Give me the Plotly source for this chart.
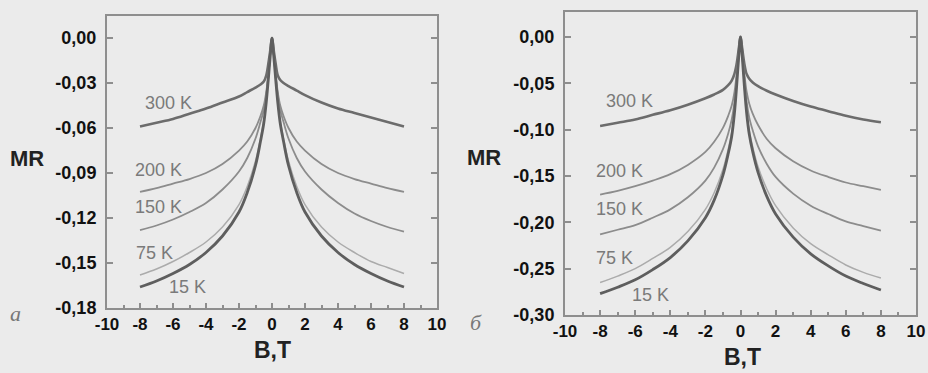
import plotly.graph_objects as go

# ---------------- data ----------------
B = [-8, -7, -6, -5, -4, -3, -2, -1.5, -1, -0.7, -0.5, -0.35, -0.22, -0.1, 0,
     0.1, 0.22, 0.35, 0.5, 0.7, 1, 1.5, 2, 3, 4, 5, 6, 7, 8]

temps = ["300 K", "200 K", "150 K", "75 K", "15 K"]

# panel a
mr_a_300 = [-0.059, -0.0565, -0.054, -0.0505, -0.047, -0.043, -0.039, -0.036, -0.033, -0.031, -0.029, -0.025, -0.017, -0.008, 0.0,
            -0.008, -0.017, -0.025, -0.028, -0.030, -0.032, -0.035, -0.038, -0.043, -0.047, -0.050, -0.053, -0.056, -0.059]
mr_a_200 = [-0.1025, -0.100, -0.097, -0.094, -0.090, -0.084, -0.075, -0.069, -0.060, -0.052, -0.045, -0.036, -0.024, -0.010, 0.0,
            -0.010, -0.024, -0.036, -0.045, -0.052, -0.060, -0.069, -0.075, -0.084, -0.090, -0.094, -0.097, -0.100, -0.1025]
mr_a_150 = [-0.128, -0.125, -0.121, -0.116, -0.110, -0.101, -0.089, -0.080, -0.067, -0.056, -0.048, -0.038, -0.025, -0.010, 0.0,
            -0.010, -0.025, -0.038, -0.048, -0.056, -0.067, -0.080, -0.089, -0.101, -0.110, -0.117, -0.122, -0.126, -0.129]
mr_a_75 = [-0.158, -0.154, -0.149, -0.143, -0.136, -0.126, -0.111, -0.099, -0.082, -0.067, -0.055, -0.042, -0.027, -0.011, 0.0,
           -0.011, -0.027, -0.042, -0.055, -0.067, -0.082, -0.099, -0.111, -0.126, -0.136, -0.143, -0.149, -0.153, -0.157]
mr_a_15 = [-0.166, -0.162, -0.157, -0.151, -0.143, -0.132, -0.116, -0.103, -0.085, -0.069, -0.057, -0.043, -0.027, -0.011, 0.0,
           -0.011, -0.027, -0.043, -0.057, -0.069, -0.085, -0.103, -0.116, -0.132, -0.143, -0.151, -0.157, -0.162, -0.166]

# panel b
mr_b_300 = [-0.096, -0.0925, -0.089, -0.084, -0.079, -0.073, -0.066, -0.062, -0.057, -0.052, -0.047, -0.040, -0.029, -0.013, 0.0,
            -0.013, -0.029, -0.040, -0.045, -0.049, -0.053, -0.058, -0.062, -0.069, -0.075, -0.080, -0.085, -0.089, -0.092]
mr_b_200 = [-0.170, -0.166, -0.161, -0.155, -0.148, -0.138, -0.124, -0.113, -0.098, -0.085, -0.074, -0.060, -0.040, -0.017, 0.0,
            -0.017, -0.040, -0.059, -0.072, -0.083, -0.095, -0.110, -0.120, -0.134, -0.144, -0.151, -0.157, -0.161, -0.165]
mr_b_150 = [-0.213, -0.208, -0.203, -0.195, -0.186, -0.173, -0.155, -0.141, -0.121, -0.104, -0.089, -0.071, -0.046, -0.019, 0.0,
            -0.019, -0.046, -0.070, -0.087, -0.101, -0.118, -0.137, -0.151, -0.169, -0.182, -0.191, -0.199, -0.204, -0.209]
mr_b_75 = [-0.265, -0.258, -0.250, -0.239, -0.227, -0.210, -0.186, -0.168, -0.143, -0.121, -0.103, -0.081, -0.052, -0.021, 0.0,
           -0.021, -0.052, -0.080, -0.101, -0.119, -0.140, -0.164, -0.182, -0.206, -0.223, -0.235, -0.246, -0.254, -0.260]
mr_b_15 = [-0.277, -0.270, -0.262, -0.251, -0.238, -0.220, -0.195, -0.176, -0.149, -0.126, -0.107, -0.083, -0.053, -0.021, 0.0,
           -0.021, -0.053, -0.082, -0.105, -0.124, -0.146, -0.172, -0.191, -0.216, -0.234, -0.247, -0.258, -0.266, -0.273]

x_ticks = [-10, -8, -6, -4, -2, 0, 2, 4, 6, 8, 10]
x_ticktext = ["-10", "-8", "-6", "-4", "-2", "0", "2", "4", "6", "8", "10"]
y_ticks_a = [0.0, -0.03, -0.06, -0.09, -0.12, -0.15, -0.18]
y_ticktext_a = ["0,00", "-0,03", "-0,06", "-0,09", "-0,12", "-0,15", "-0,18"]
y_ticks_b = [0.0, -0.05, -0.10, -0.15, -0.20, -0.25, -0.30]
y_ticktext_b = ["0,00", "-0,05", "-0,10", "-0,15", "-0,20", "-0,25", "-0,30"]

# temperature label anchors (data coords)
lab_a_x = [-6.25, -6.85, -6.85, -7.15, -5.15]
lab_a_y = [-0.0433, -0.088, -0.1127, -0.143, -0.166]
lab_b_x = [-6.3, -6.87, -6.87, -7.2, -5.15]
lab_b_y = [-0.069, -0.1447, -0.186, -0.238, -0.278]

# ---------------- styles ----------------
colors = ["#6c6c6c", "#8c8c8c", "#8c8c8c", "#ababab", "#5e5e5e"]
widths = [2.6, 1.8, 1.8, 1.5, 2.8]
bg = "#ebebeb"
frame = "#8e8e8e"

fig = go.Figure()
series_a = [mr_a_300, mr_a_200, mr_a_150, mr_a_75, mr_a_15]
series_b = [mr_b_300, mr_b_200, mr_b_150, mr_b_75, mr_b_15]
for i, t in enumerate(temps):
    fig.add_trace(go.Scatter(x=B, y=series_a[i], mode="lines", name=t,
                             line=dict(color=colors[i], width=widths[i], shape="spline", smoothing=1.0),
                             xaxis="x", yaxis="y", showlegend=False))
    fig.add_trace(go.Scatter(x=B, y=series_b[i], mode="lines", name=t,
                             line=dict(color=colors[i], width=widths[i], shape="spline", smoothing=1.0),
                             xaxis="x2", yaxis="y2", showlegend=False))

xtickfont = dict(family="Liberation Sans", size=17, color="#111111", weight="bold")
ytickfont = dict(family="Liberation Sans", size=18, color="#111111", weight="bold")

common_x = dict(range=[-10, 10], tickvals=x_ticks, ticktext=x_ticktext, ticks="inside",
                ticklen=5, tickwidth=1.5, tickcolor=frame, showline=True, linecolor=frame,
                linewidth=2, mirror=True, showgrid=False, zeroline=False, tickfont=xtickfont,
                ticklabelstandoff=0, automargin=False,
                minor=dict(ticks="inside", dtick=1, ticklen=3, tickcolor=frame, tickwidth=1.5))
common_y = dict(ticks="inside", ticklen=6, tickwidth=1.5, tickcolor=frame, showline=True,
                linecolor=frame, linewidth=2, mirror="ticks", showgrid=False, zeroline=False,
                tickfont=ytickfont, ticklabelstandoff=5, automargin=False)

fig.update_layout(
    width=928, height=373,
    margin=dict(l=0, r=0, t=0, b=0, autoexpand=False),
    paper_bgcolor=bg, plot_bgcolor=bg,
    xaxis=dict(domain=[107/928, 437/928], anchor="y", **common_x),
    yaxis=dict(domain=[1-308/373, 1-16/373], anchor="x", range=[-0.18, 0.0147],
               tickvals=y_ticks_a, ticktext=y_ticktext_a, **common_y),
    xaxis2=dict(domain=[565/928, 916/928], anchor="y2", **common_x),
    yaxis2=dict(domain=[1-315/373, 1-12/373], anchor="x2", range=[-0.30, 0.027],
                tickvals=y_ticks_b, ticktext=y_ticktext_b, **common_y),
)

labfont = dict(family="Liberation Sans", size=18, color="#7a7a7a")
for i, t in enumerate(temps):
    fig.add_annotation(x=lab_a_x[i], y=lab_a_y[i], xref="x", yref="y", text=t,
                       showarrow=False, font=labfont, xanchor="center", yanchor="middle")
    fig.add_annotation(x=lab_b_x[i], y=lab_b_y[i], xref="x2", yref="y2", text=t,
                       showarrow=False, font=labfont, xanchor="center", yanchor="middle")


def paper_text(px, py, text, font):
    fig.add_annotation(x=px/928, y=1-py/373, xref="paper", yref="paper", text=text,
                       showarrow=False, font=font, xanchor="center", yanchor="middle")


axfont = dict(family="Liberation Sans", size=22, color="#222222", weight="bold")
paper_text(27, 158, "MR", axfont)
paper_text(484, 157, "MR", axfont)
bfont = dict(family="Liberation Sans", size=23, color="#222222", weight="bold")
paper_text(272, 350, "B,T", bfont)
paper_text(742, 357, "B,T", bfont)
pfont = dict(family="Liberation Serif", size=22, color="#777777", style="italic")
paper_text(15, 313, "a", pfont)
paper_text(476, 322, "б", pfont)

fig.write_html("out.html", config={"displayModeBar": False})

# remove the default page margin so the figure sits at the window's top-left corner
with open("out.html", "r", encoding="utf-8") as f:
    html = f.read()
html = html.replace("<head>", "<head><style>html,body{margin:0;padding:0;background:#ebebeb;overflow:hidden;}</style>", 1)
with open("out.html", "w", encoding="utf-8") as f:
    f.write(html)
